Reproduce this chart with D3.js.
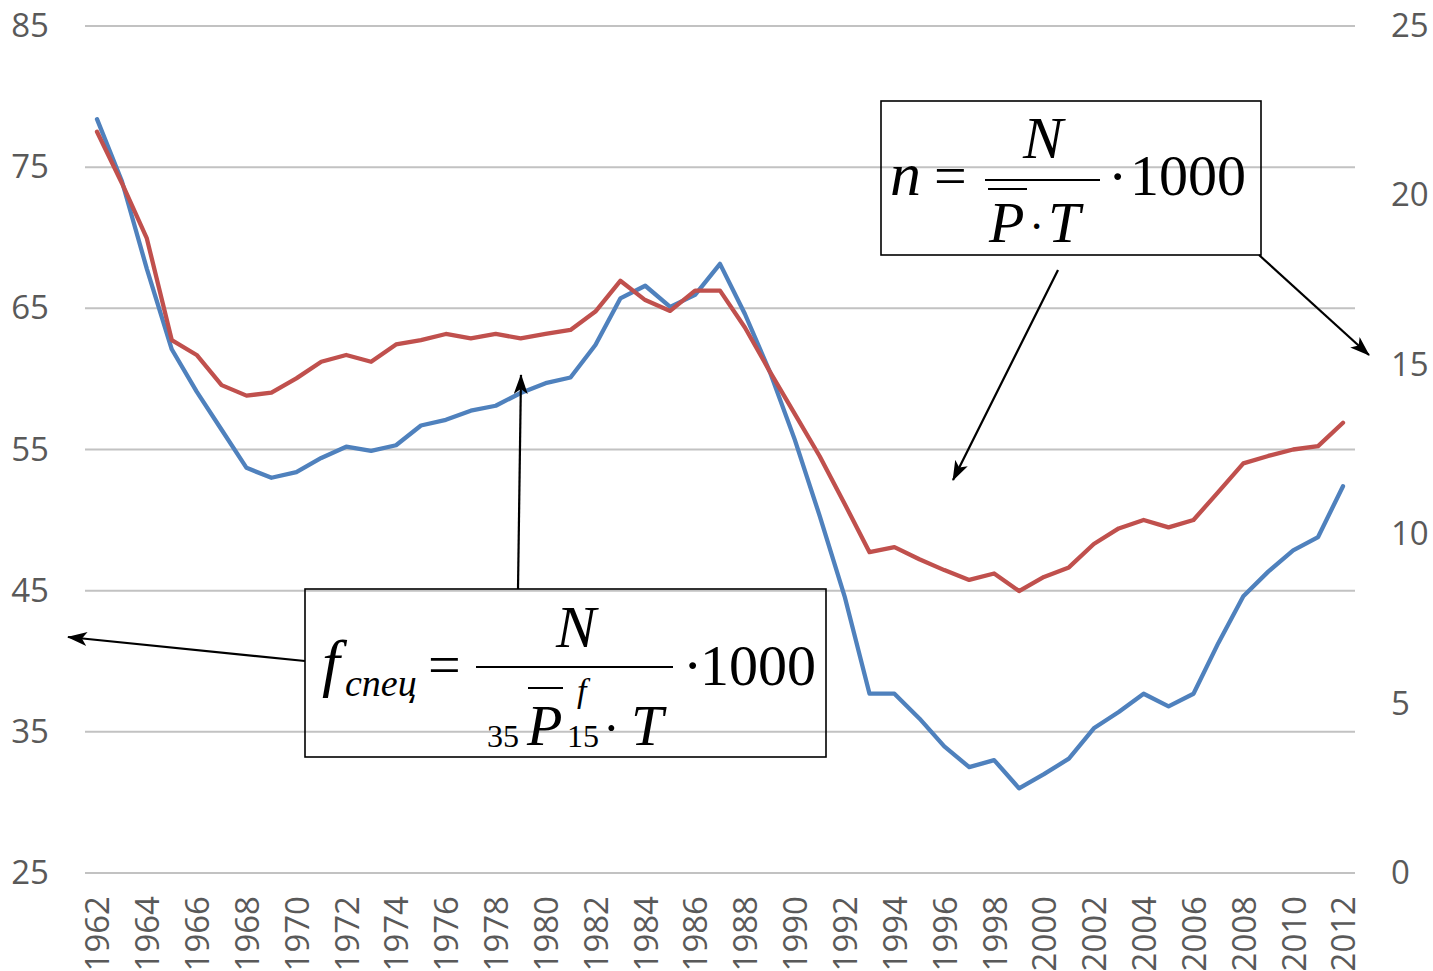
<!DOCTYPE html>
<html>
<head>
<meta charset="utf-8">
<script src="https://cdn.jsdelivr.net/npm/d3@7"></script>
<style>
  html, body { margin: 0; padding: 0; background: #fff; }
  svg { display: block; }
  .tick-label { font-family: "Open Sans", "Liberation Sans", sans-serif; font-size: 33px; fill: #595959; }
  .math { font-family: "Liberation Serif", "Times New Roman", serif; fill: #000; }
</style>
</head>
<body>
<svg id="chart" width="1433" height="971"></svg>
<script>
// Years on the horizontal axis
const years = [1962,1963,1964,1965,1966,1967,1968,1969,1970,1971,1972,1973,1974,1975,1976,1977,
  1978,1979,1980,1981,1982,1983,1984,1985,1986,1987,1988,1989,1990,1991,1992,1993,1994,1995,
  1996,1997,1998,1999,2000,2001,2002,2003,2004,2005,2006,2007,2008,2009,2010,2011,2012];

// Special fertility rate, per 1000 women aged 15-49 (left axis)
const fertility = [78.4,74.0,67.8,62.1,59.1,56.4,53.7,53.0,53.4,54.4,55.2,54.9,55.3,56.7,57.1,57.75,
  58.1,59.0,59.7,60.1,62.4,65.7,66.6,65.1,65.95,68.15,64.6,60.5,55.7,50.3,44.6,37.7,37.7,35.95,
  33.97,32.5,33.0,31.0,32.0,33.1,35.25,36.4,37.7,36.8,37.7,41.3,44.6,46.35,47.85,48.8,52.4];

// Crude birth rate, per 1000 population (right axis)
const birthRate = [21.88,20.36,18.73,15.73,15.29,14.4,14.09,14.18,14.6,15.09,15.29,15.09,15.6,15.73,
  15.91,15.78,15.91,15.78,15.91,16.03,16.57,17.48,16.91,16.59,17.19,17.19,16.1,14.8,13.55,12.3,
  10.9,9.47,9.62,9.26,8.94,8.65,8.84,8.32,8.74,9.02,9.71,10.17,10.42,10.2,10.42,11.25,12.09,
  12.31,12.5,12.6,13.29];

const leftTicks = [25,35,45,55,65,75,85];
const rightTicks = [0,5,10,15,20,25];
const yearTicks = years.filter(y => y % 2 === 0);

const svg = d3.select("#chart");

const x = d3.scaleLinear().domain([1962, 2012]).range([97, 1343]);
const yL = d3.scaleLinear().domain([25, 85]).range([873, 26]);
const yR = d3.scaleLinear().domain([0, 25]).range([873, 26]);

// Horizontal gridlines
svg.append("g").selectAll("line").data(leftTicks).join("line")
  .attr("x1", 85).attr("x2", 1355)
  .attr("y1", d => yL(d)).attr("y2", d => yL(d))
  .attr("stroke", "#c2c2c2").attr("stroke-width", 2);

// Left axis labels
const leftAxis = d3.axisLeft(yL).tickValues(leftTicks).tickSize(0).tickPadding(0);
const gL = svg.append("g").attr("transform", "translate(49,0)").call(leftAxis);
gL.select(".domain").remove();
gL.selectAll("text").attr("class", "tick-label").attr("font-size", null).attr("font-family", null).attr("fill", null);

// Right axis labels
const rightAxis = d3.axisRight(yR).tickValues(rightTicks).tickSize(0).tickPadding(0);
const gR = svg.append("g").attr("transform", "translate(1391,0)").call(rightAxis);
gR.select(".domain").remove();
gR.selectAll("text").attr("class", "tick-label").attr("font-size", null).attr("font-family", null).attr("fill", null);

// Bottom axis: rotated year labels
const bottomAxis = d3.axisBottom(x).tickValues(yearTicks).tickFormat(d3.format("d")).tickSize(0).tickPadding(0);
const gB = svg.append("g").attr("transform", "translate(0,896)").call(bottomAxis);
gB.select(".domain").remove();
gB.selectAll("text")
  .attr("class", "tick-label").attr("font-size", null).attr("font-family", null).attr("fill", null)
  .attr("transform", "rotate(-90)")
  .attr("text-anchor", "end")
  .attr("x", 0).attr("y", 0).attr("dy", "0.36em");

// Series lines
const lineL = d3.line().x((d, i) => x(years[i])).y(d => yL(d));
const lineR = d3.line().x((d, i) => x(years[i])).y(d => yR(d));

svg.append("path").datum(fertility)
  .attr("d", lineL).attr("fill", "none")
  .attr("stroke", "#4f81bd").attr("stroke-width", 4.3).attr("stroke-linejoin", "round").attr("stroke-linecap", "round");

svg.append("path").datum(birthRate)
  .attr("d", lineR).attr("fill", "none")
  .attr("stroke", "#c0504d").attr("stroke-width", 4.3).attr("stroke-linejoin", "round").attr("stroke-linecap", "round");

// Arrowhead marker
const defs = svg.append("defs");
defs.append("marker")
  .attr("id", "head").attr("viewBox", "0 0 20 14")
  .attr("refX", 19).attr("refY", 7)
  .attr("markerWidth", 20).attr("markerHeight", 14)
  .attr("markerUnits", "userSpaceOnUse")
  .attr("orient", "auto")
  .append("path").attr("d", "M0,0 L20,7 L0,14 L5,7 Z").attr("fill", "#000");

// Annotation arrows
const arrows = [
  [305, 661, 68, 637],
  [518, 589, 521, 375],
  [1058, 270, 953, 480],
  [1259, 255, 1369, 355]
];
svg.append("g").selectAll("line").data(arrows).join("line")
  .attr("x1", d => d[0]).attr("y1", d => d[1])
  .attr("x2", d => d[2]).attr("y2", d => d[3])
  .attr("stroke", "#000").attr("stroke-width", 2.2)
  .attr("marker-end", "url(#head)");

// Formula boxes
svg.append("rect").attr("x", 305).attr("y", 589).attr("width", 521).attr("height", 168)
  .attr("fill", "none").attr("stroke", "#000").attr("stroke-width", 1.6);
svg.append("rect").attr("x", 881).attr("y", 101).attr("width", 380).attr("height", 154)
  .attr("fill", "none").attr("stroke", "#000").attr("stroke-width", 1.6);

function put(g, str, px, py, size, italic, anchor) {
  g.append("text").attr("class", "math")
    .attr("x", px).attr("y", py)
    .attr("font-size", size)
    .attr("font-style", italic ? "italic" : "normal")
    .attr("text-anchor", anchor || "start")
    .text(str);
}
function bar(g, x1, x2, yy) {
  g.append("line").attr("x1", x1).attr("x2", x2).attr("y1", yy).attr("y2", yy)
    .attr("stroke", "#000").attr("stroke-width", 2);
}

// Special fertility rate formula
const fg = svg.append("g");
put(fg, "f", 322, 684, 64, true);
put(fg, "спец", 345, 696, 38, true);
put(fg, "=", 428, 684, 58, false);
bar(fg, 476, 673, 667);
put(fg, "N", 576, 647, 60, true, "middle");
put(fg, "·", 683, 685, 58, false);
put(fg, "1000", 700, 685, 58, false);
put(fg, "35", 487, 747, 32, false);
bar(fg, 528, 563, 688);
put(fg, "P", 527, 745, 58, true);
put(fg, "f", 577, 702, 34, true);
put(fg, "15", 567, 747, 32, false);
put(fg, "·", 603, 745, 50, false);
put(fg, "T", 631, 745, 58, true);

// Crude birth rate formula
const ng = svg.append("g");
put(ng, "n", 890, 195, 62, true);
put(ng, "=", 934, 195, 58, false);
bar(ng, 985, 1100, 180);
put(ng, "N", 1043, 158, 60, true, "middle");
bar(ng, 988, 1027, 189);
put(ng, "P", 989, 242, 58, true);
put(ng, "·", 1029, 242, 46, false);
put(ng, "T", 1048, 242, 58, true);
put(ng, "·", 1108, 196, 58, false);
put(ng, "1000", 1130, 195, 58, false);
</script>
</body>
</html>
